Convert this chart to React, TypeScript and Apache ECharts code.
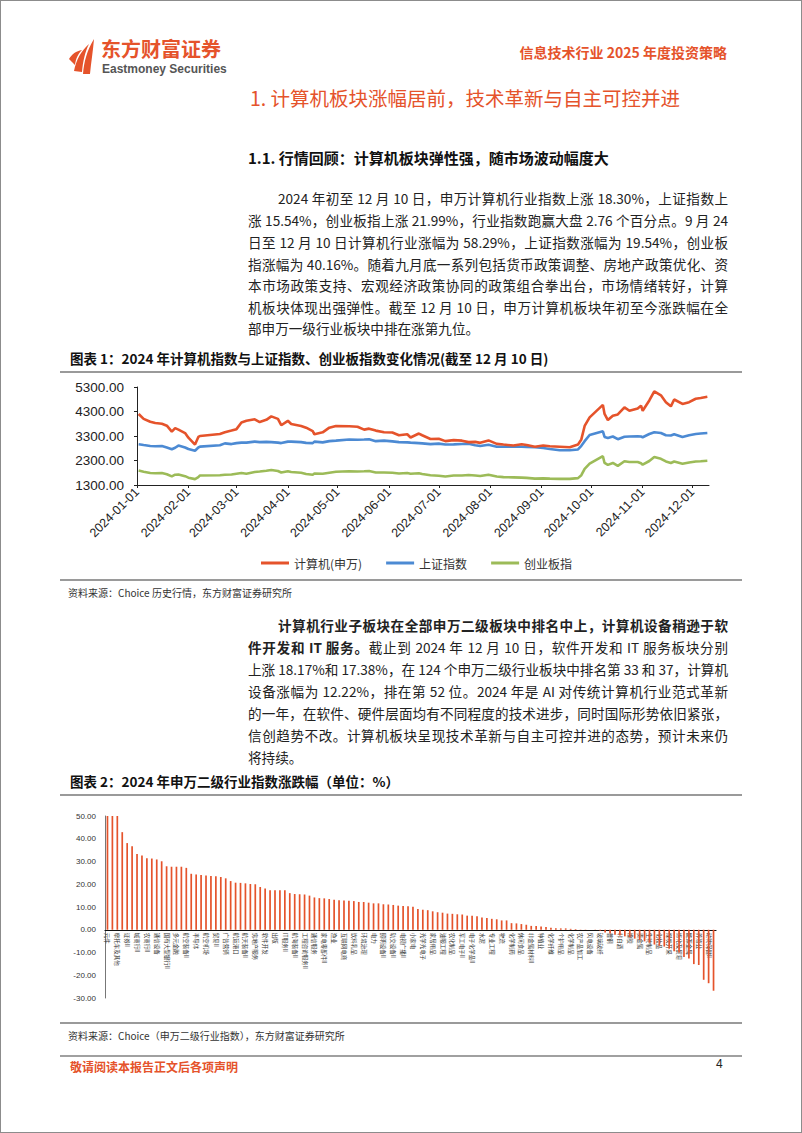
import React, { useEffect, useRef } from "react";
import * as echarts from "echarts";

const RED = "#E5532B";
const BLUE = "#4C8AD3";
const GREEN = "#9CBB58";
const FONT = '"Noto Sans CJK SC", "Noto Sans", sans-serif';
const NUM_FONT = '"Liberation Sans", Arial, sans-serif';

// ---------- Chart 1 data ----------
const lineLegend = ["计算机(申万)", "上证指数", "创业板指"];
const monthTicks = [
  "2024-01-01", "2024-02-01", "2024-03-01", "2024-04-01", "2024-05-01", "2024-06-01",
  "2024-07-01", "2024-08-01", "2024-09-01", "2024-10-01", "2024-11-01", "2024-12-01",
];
const yTicks1 = [1300, 2300, 3300, 4300, 5300];
const lineDates = [
  "2024-01-02", "2024-01-05", "2024-01-09", "2024-01-12", "2024-01-16", "2024-01-19", "2024-01-22", "2024-01-24", "2024-01-26", "2024-01-30",
  "2024-02-01", "2024-02-05", "2024-02-07", "2024-02-08", "2024-02-20", "2024-02-23", "2024-02-27", "2024-03-01", "2024-03-04", "2024-03-07",
  "2024-03-12", "2024-03-15", "2024-03-19", "2024-03-22", "2024-03-26", "2024-03-28", "2024-04-01", "2024-04-03", "2024-04-09", "2024-04-12",
  "2024-04-16", "2024-04-17", "2024-04-22", "2024-04-26", "2024-04-30", "2024-05-08", "2024-05-13", "2024-05-17", "2024-05-20", "2024-05-24",
  "2024-05-29", "2024-06-03", "2024-06-07", "2024-06-12", "2024-06-14", "2024-06-19", "2024-06-21", "2024-06-26", "2024-07-01", "2024-07-05",
  "2024-07-10", "2024-07-15", "2024-07-19", "2024-07-23", "2024-07-26", "2024-07-31", "2024-08-05", "2024-08-09", "2024-08-15", "2024-08-20",
  "2024-08-23", "2024-08-28", "2024-09-02", "2024-09-06", "2024-09-12", "2024-09-18", "2024-09-23", "2024-09-25", "2024-09-27", "2024-09-30",
  "2024-10-08", "2024-10-09", "2024-10-11", "2024-10-14", "2024-10-17", "2024-10-21", "2024-10-24", "2024-10-29", "2024-10-31", "2024-11-01",
  "2024-11-05", "2024-11-08", "2024-11-12", "2024-11-15", "2024-11-18", "2024-11-20", "2024-11-25", "2024-11-29", "2024-12-03", "2024-12-06",
  "2024-12-10",
];
const computerValues = [
  4200, 4000, 3880, 3830, 3800, 3720, 3480, 3620, 3560, 3420,
  3230, 2950, 3260, 3300, 3380, 3450, 3520, 3580, 3850, 3920,
  3980, 3870, 3960, 4100, 4000, 3740, 3920, 3790, 3710, 3640,
  3500, 3370, 3450, 3640, 3710, 3700, 3680, 3560, 3600, 3520,
  3450, 3440, 3330, 3370, 3240, 3400, 3330, 3180, 3190, 3090,
  3130, 3110, 3050, 3060, 3020, 3120, 2980, 2950, 2910, 2960,
  2930, 2860, 2910, 2880, 2860, 2840, 2950, 3160, 3710, 4060,
  4570, 4200, 3950, 4130, 4180, 4470, 4330, 4420, 4540, 4330,
  4750, 5120, 4960, 4680, 4510, 4790, 4610, 4680, 4820, 4850,
  4900,
];
const shanghaiValues = [
  2962, 2930, 2890, 2880, 2890, 2830, 2760, 2820, 2910, 2830,
  2770, 2700, 2830, 2865, 2920, 3000, 2970, 3010, 3030, 3030,
  3070, 3050, 3060, 3050, 3030, 3010, 3070, 3070, 3050, 3020,
  3010, 3070, 3040, 3090, 3110, 3160, 3150, 3160, 3170, 3090,
  3110, 3080, 3050, 3040, 3030, 3010, 3000, 2970, 2990, 2950,
  2960, 2975, 2980, 2920, 2890, 2940, 2860, 2860, 2870, 2860,
  2850, 2840, 2810, 2770, 2720, 2720, 2750, 2900, 3090, 3340,
  3490, 3260, 3220, 3280, 3170, 3270, 3280, 3290, 3280, 3250,
  3380, 3450, 3420, 3330, 3320, 3370, 3260, 3330, 3380, 3400,
  3420,
];
const chinextValues = [
  1890, 1840, 1790, 1780, 1790, 1740, 1650, 1720, 1730, 1660,
  1600, 1540, 1620, 1690, 1700, 1720, 1730, 1760, 1790, 1760,
  1830, 1850, 1880, 1910, 1870, 1810, 1860, 1830, 1800, 1750,
  1720, 1770, 1760, 1800, 1840, 1860, 1850, 1860, 1870, 1810,
  1810, 1800, 1770, 1790, 1760, 1780, 1750, 1700, 1680, 1650,
  1690, 1690, 1710, 1690, 1670, 1720, 1650, 1620, 1610, 1600,
  1590, 1560, 1570, 1560, 1550, 1550, 1580, 1700, 1960, 2170,
  2475, 2200, 2120, 2200, 2080, 2270, 2240, 2240, 2190, 2130,
  2280, 2440, 2370, 2260, 2200, 2260, 2170, 2220, 2260, 2270,
  2290,
];

// ---------- Chart 2 data ----------
const industries = [
  "元件", "消费电子", "摩托车及其他", "股份制银行II", "证券II", "保险II", "城商行II", "电网设备", "农商行II", "其他电子II",
  "通信设备", "白色家电", "国有大型银行II", "黑色家电", "多元金融", "厨卫电器", "航空装备II", "电机II", "半导体", "铁路公路",
  "航空机场", "装修装饰II", "贸易II", "地面兵装II", "广告营销", "自动化设备", "航运港口", "汽车零部件", "航天装备II", "数字媒体",
  "房地产服务", "文娱用品", "软件开发", "汽车服务", "出版", "其他电源设备II", "IT服务II", "乘用车", "航海装备II", "燃气II",
  "工程咨询服务II", "游戏II", "通信服务", "专用设备", "家电零部件II", "影视院线", "渔业", "通用设备", "互联网电商", "冶钢原料",
  "饮料乳品", "计算机设备", "环境治理", "调味发酵品II", "电力", "一般零售", "照明设备II", "体育II", "轨交设备II", "工程机械",
  "电视广播II", "房屋建设II", "小家电", "服装家纺", "光学光电子", "白酒II", "家居用品", "林业II", "油服工程", "基础建设",
  "农化制品", "电池", "军工电子II", "金属新材料", "电子化学品II", "造纸", "水泥", "装修建材", "专业工程", "酒店餐饮",
  "物流", "旅游及景区", "化学制药", "教育", "休闲食品", "塑料", "非金属材料II", "纺织制造", "种植业", "包装印刷",
  "化学纤维", "商用车", "个护用品", "饰品", "化学制品", "中药II", "农产品加工", "环保设备II", "风电设备", "饲料",
  "玻璃玻纤", "食品加工", "普钢", "特钢II", "非白酒", "化学原料", "橡胶", "工业金属", "贵金属", "小金属",
  "生物制品", "医药商业", "化妆品", "医疗器械", "煤炭开采", "焦炭II", "炼化及贸易", "光伏设备", "能源金属", "医疗服务",
  "养殖业", "房地产开发", "动物保健II", "医疗美容",
];
const industryReturns = [
  50, 50, 50, 42.9, 38.1, 36.7, 33.3, 32.6, 31.4, 31.3,
  30.9, 30.1, 27.9, 27.7, 27.7, 27.7, 27.2, 24.6, 24.3, 24.1,
  23.8, 23.6, 23.5, 23.2, 22.6, 21.4, 20.7, 20.6, 20.4, 20.1,
  20.0, 18.8, 18.17, 17.4, 17.4, 17.4, 17.38, 16.1, 15.7, 15.6,
  15.5, 15.0, 14.2, 13.9, 13.8, 13.5, 13.2, 13.0, 12.9, 12.7,
  12.6, 12.22, 12.2, 11.9, 11.6, 11.6, 11.2, 11.1, 10.9, 10.6,
  10.4, 10.3, 10.1, 9.1, 8.8, 8.6, 8.1, 7.7, 7.5, 7.1,
  7.0, 6.8, 6.7, 6.2, 6.1, 5.9, 5.4, 5.2, 4.8, 4.6,
  4.1, 4.1, 2.9, 2.8, 2.5, 2.2, 1.7, 1.6, 1.4, 1.2,
  0.9, 0.7, 0.6, 0.6, 0.4, 0.3, 0.1, 0.1, 0.0, -0.1,
  -0.4, -1.2, -1.6, -2.2, -2.5, -2.9, -3.3, -3.9, -4.5, -5.1,
  -5.7, -6.5, -7.0, -7.4, -8.3, -9.4, -10.0, -12.0, -12.6, -15.1,
  -15.5, -22.0, -23.5, -26.8,
];
const yTicks2 = [-30, -20, -10, 0, 10, 20, 30, 40, 50];

function LineChart() {
  const ref = useRef<HTMLDivElement>(null);
  useEffect(() => {
    const chart = echarts.init(ref.current!, null, { renderer: "svg" });
    const mk = (vals: number[]) => lineDates.map((d, i) => [d, vals[i]]);
    chart.setOption({
      animation: false,
      textStyle: { fontFamily: FONT },
      grid: { left: 77, right: 33, top: 13, bottom: 93, containLabel: false, outerBoundsMode: "none" },
      legend: {
        data: lineLegend,
        top: 178,
        left: 196,
        icon: "rect",
        itemWidth: 28,
        itemHeight: 3,
        itemGap: 24,
        textStyle: { fontSize: 12, color: "#333", fontFamily: FONT },
      },
      xAxis: {
        type: "time",
        min: monthTicks[0],
        max: "2024-12-11",
        axisLine: { show: true, lineStyle: { color: "#222", width: 1 } },
        axisTick: { show: true, length: 3, customValues: monthTicks, lineStyle: { color: "#222" } },
        axisLabel: {
          customValues: monthTicks,
          formatter: "{yyyy}-{MM}-{dd}",
          rotate: 45,
          fontSize: 12.5,
          color: "#222",
          margin: 5,
          hideOverlap: false,
          showMinLabel: true,
          showMaxLabel: true,
          fontFamily: NUM_FONT,
        },
        splitLine: { show: false },
      },
      yAxis: {
        type: "value",
        min: yTicks1[0],
        max: yTicks1[yTicks1.length - 1],
        interval: 1000,
        axisLine: { show: true, lineStyle: { color: "#222", width: 1 } },
        axisTick: { show: true, length: 3, lineStyle: { color: "#222" } },
        axisLabel: {
          formatter: (v: number) => v.toFixed(2),
          fontSize: 13.5,
          color: "#222",
          margin: 13,
          fontFamily: NUM_FONT,
        },
        splitLine: { show: false },
      },
      series: [
        { name: lineLegend[2], type: "line", data: mk(chinextValues), showSymbol: false, lineStyle: { width: 2.6, color: GREEN }, itemStyle: { color: GREEN } },
        { name: lineLegend[1], type: "line", data: mk(shanghaiValues), showSymbol: false, lineStyle: { width: 2.6, color: BLUE }, itemStyle: { color: BLUE } },
        { name: lineLegend[0], type: "line", data: mk(computerValues), showSymbol: false, lineStyle: { width: 2.6, color: RED }, itemStyle: { color: RED } },
      ],
    });
    return () => chart.dispose();
  }, []);
  return <div ref={ref} style={{ position: "absolute", left: 60, top: 374, width: 682, height: 204 }} />;
}

function BarChart() {
  const ref = useRef<HTMLDivElement>(null);
  useEffect(() => {
    const chart = echarts.init(ref.current!, null, { renderer: "svg" });
    const gridTop = 19;
    const gridBottom = 22;
    const plotH = 223 - gridTop - gridBottom;
    const yMin = yTicks2[0];
    const yMax = yTicks2[yTicks2.length - 1];
    // lift the category axis (line + labels) from the grid bottom up to the zero line
    const zeroOffset = -plotH * (0 - yMin) / (yMax - yMin);
    chart.setOption({
      animation: false,
      textStyle: { fontFamily: FONT },
      grid: { left: 45, right: 26, top: gridTop, bottom: gridBottom, containLabel: false, outerBoundsMode: "none" },
      xAxis: {
        type: "category",
        data: industries,
        position: "bottom",
        offset: zeroOffset,
        axisLine: { show: true, onZero: false, lineStyle: { color: "#111", width: 1.2 } },
        axisTick: { show: false },
        axisLabel: {
          interval: 1,
          rotate: -90,
          fontSize: 5.5,
          color: "#333",
          margin: 3,
          hideOverlap: false,
        },
        splitLine: { show: false },
      },
      yAxis: {
        type: "value",
        min: yMin,
        max: yMax,
        interval: 10,
        axisLine: { show: true, lineStyle: { color: "#777", width: 1 } },
        axisTick: { show: false },
        axisLabel: { formatter: (v: number) => v.toFixed(2), fontSize: 8, color: "#333", margin: 9, fontFamily: NUM_FONT },
        splitLine: { show: false },
      },
      series: [
        { type: "bar", data: industryReturns, barWidth: 1.7, itemStyle: { color: RED } },
      ],
    });
    return () => chart.dispose();
  }, []);
  return <div ref={ref} style={{ position: "absolute", left: 60, top: 797, width: 682, height: 223 }} />;
}

type TxtProps = { x: number; y: number; size: number; color?: string; weight?: any; children: any; right?: boolean; family?: string };
function Txt({ x, y, size, color = "#222", weight = "normal", children, right, family }: TxtProps) {
  const lh = Math.round(size * 1.2);
  const style: any = {
    position: "absolute",
    top: y - lh / 2,
    fontSize: size,
    lineHeight: `${lh}px`,
    color,
    fontWeight: weight,
    whiteSpace: "nowrap",
    fontFamily: family || FONT,
  };
  if (right) style.right = 802 - x;
  else style.left = x;
  return <div style={style}>{children}</div>;
}

function JLine({ y, indent = false, last = false, children }: { y: number; indent?: boolean; last?: boolean; children: any }) {
  const left = indent ? 278 : 248;
  return (
    <div
      style={{
        position: "absolute",
        left,
        width: 728 - left,
        top: y - 11,
        height: 22,
        lineHeight: "22px",
        fontSize: 13.6,
        color: "#222",
        textAlign: "justify",
        textAlignLast: last ? "left" : "justify",
        overflow: "visible",
      } as any}
    >
      {children}
    </div>
  );
}

function Rule({ y, h = 2, color = "#9a9a9a" }: { y: number; h?: number; color?: string }) {
  return <div style={{ position: "absolute", left: 60, width: 682, top: y - h / 2, height: h, background: color }} />;
}

export default function App() {
  const p1 = [198, 220, 242, 264, 285, 307, 328];
  const p2 = [625, 647, 669, 691, 713, 735, 757];
  return (
    <div style={{ position: "absolute", left: 0, top: 0, width: 802, height: 1133, background: "#fff", fontFamily: FONT, overflow: "hidden" }}>
      <div style={{ position: "absolute", left: 0, top: 0, width: 802, height: 1133, boxSizing: "border-box", border: "1px solid #8c8c8c", pointerEvents: "none" }} />

      {/* Logo */}
      <svg style={{ position: "absolute", left: 66, top: 36 }} width="30" height="40" viewBox="0 0 30 40">
        <path d="M3 23 C6 18 10 15 16 14 C12 18 10 22 9 29 Z" fill={RED} />
        <path d="M8 35 C10 24 15 15 23 8 C19 16 17 25 16 36 Z" fill={RED} />
        <path d="M17 38 C18 26 21 14 28 3 C27 15 25 27 24 38 Z" fill={RED} />
      </svg>
      <Txt x={101} y={48.5} size={20} color={RED} weight="bold">东方财富证券</Txt>
      <Txt x={102} y={68.5} size={12} color="#555" weight="bold" family={NUM_FONT}>Eastmoney Securities</Txt>
      <Txt x={727} y={52} size={14} color={RED} weight="bold" right>信息技术行业 2025 年度投资策略</Txt>

      <Txt x={250} y={97} size={19.5} color={RED}>1. 计算机板块涨幅居前，技术革新与自主可控并进</Txt>
      <Txt x={248} y={158} size={15} color="#111" weight="bold">1.1. 行情回顾：计算机板块弹性强，随市场波动幅度大</Txt>

      <JLine y={p1[0]} indent>2024 年初至 12 月 10 日，申万计算机行业指数上涨 18.30%，上证指数上</JLine>
      <JLine y={p1[1]}>涨 15.54%，创业板指上涨 21.99%，行业指数跑赢大盘 2.76 个百分点。9 月 24</JLine>
      <JLine y={p1[2]}>日至 12 月 10 日计算机行业涨幅为 58.29%，上证指数涨幅为 19.54%，创业板</JLine>
      <JLine y={p1[3]}>指涨幅为 40.16%。随着九月底一系列包括货币政策调整、房地产政策优化、资</JLine>
      <JLine y={p1[4]}>本市场政策支持、宏观经济政策协同的政策组合拳出台，市场情绪转好，计算</JLine>
      <JLine y={p1[5]}>机板块体现出强弹性。截至 12 月 10 日，申万计算机板块年初至今涨跌幅在全</JLine>
      <JLine y={p1[6]} last>部申万一级行业板块中排在涨第九位。</JLine>

      <Txt x={70} y={358} size={13.5} color="#111" weight="bold">图表 1：2024 年计算机指数与上证指数、创业板指数变化情况(截至 12 月 10 日)</Txt>
      <Rule y={372} h={2} />
      <LineChart />
      <Rule y={580} h={2} />
      <Txt x={68} y={593} size={10} color="#333">资料来源：Choice 历史行情，东方财富证券研究所</Txt>

      <JLine y={p2[0]} indent><b>计算机行业子板块在全部申万二级板块中排名中上，计算机设备稍逊于软</b></JLine>
      <JLine y={p2[1]}><b>件开发和 IT 服务。</b>截止到 2024 年 12 月 10 日，软件开发和 IT 服务板块分别</JLine>
      <JLine y={p2[2]}>上涨 18.17%和 17.38%，在 124 个申万二级行业板块中排名第 33 和 37，计算机</JLine>
      <JLine y={p2[3]}>设备涨幅为 12.22%，排在第 52 位。2024 年是 AI 对传统计算机行业范式革新</JLine>
      <JLine y={p2[4]}>的一年，在软件、硬件层面均有不同程度的技术进步，同时国际形势依旧紧张，</JLine>
      <JLine y={p2[5]}>信创趋势不改。计算机板块呈现技术革新与自主可控并进的态势，预计未来仍</JLine>
      <JLine y={p2[6]} last>将持续。</JLine>

      <Txt x={70} y={781} size={13.5} color="#111" weight="bold">图表 2：2024 年申万二级行业指数涨跌幅（单位：%）</Txt>
      <Rule y={795} h={2} />
      <BarChart />
      <Rule y={1023} h={2} />
      <Txt x={68} y={1036} size={10} color="#333">资料来源：Choice（申万二级行业指数），东方财富证券研究所</Txt>

      <Rule y={1056} h={1.5} color="#a0a0a0" />
      <Txt x={70} y={1067} size={12} color={RED} weight="bold">敬请阅读本报告正文后各项声明</Txt>
      <Txt x={716} y={1064} size={12} color="#222" family={NUM_FONT}>4</Txt>
    </div>
  );
}
